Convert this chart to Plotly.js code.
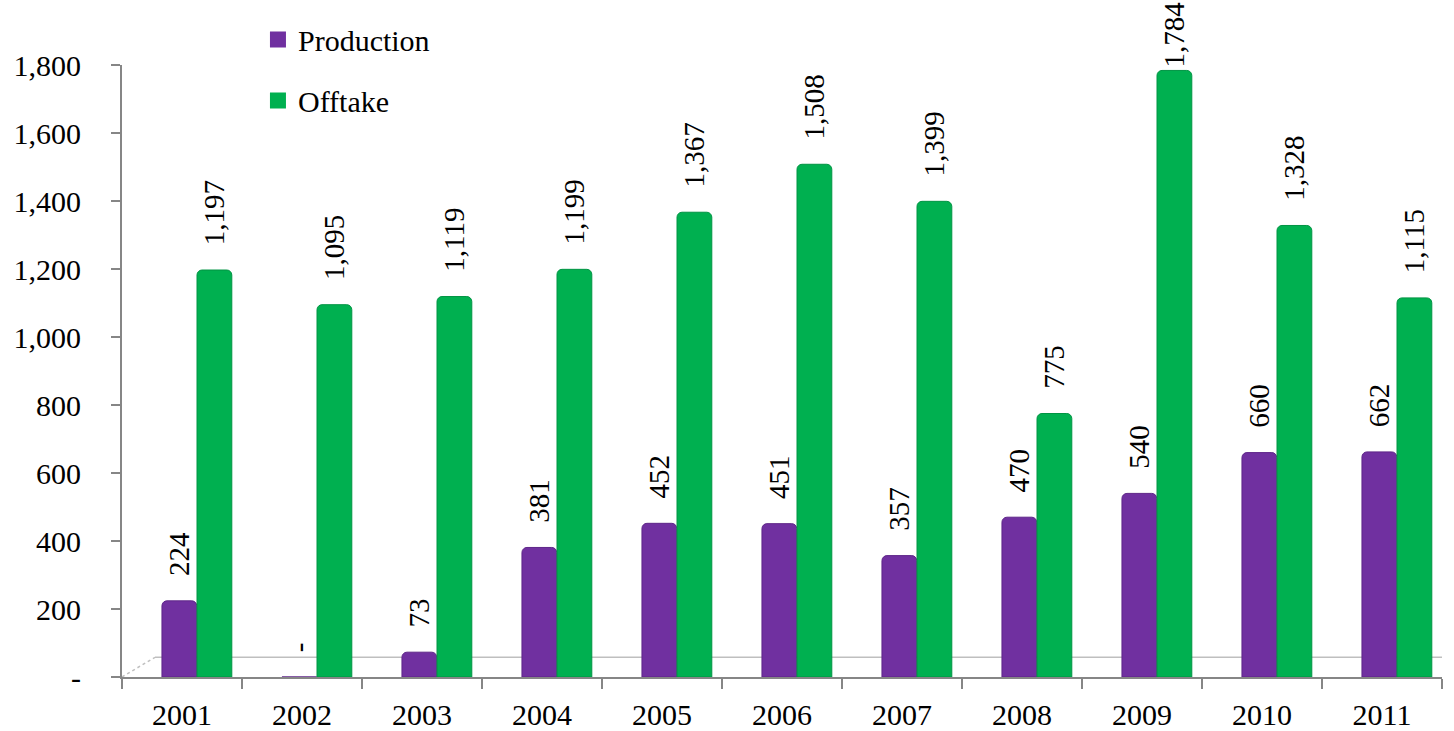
<!DOCTYPE html>
<html><head><meta charset="utf-8">
<script src="https://cdn.plot.ly/plotly-3.0.1.min.js"></script>
<style>
html,body{margin:0;padding:0;background:#fff}#chart{width:1454px;height:731px}
#chart text{font-family:"Liberation Serif","Times New Roman",serif !important}
</style>
</head><body><div id="chart"></div>
<script>
const years = ['2001','2002','2003','2004','2005','2006','2007','2008','2009','2010','2011'];
const production = [224, 0, 73, 381, 452, 451, 357, 470, 540, 660, 662];
const offtake = [1197, 1095, 1119, 1199, 1367, 1508, 1399, 775, 1784, 1328, 1115];
const yTickVals = [0, 200, 400, 600, 800, 1000, 1200, 1400, 1600, 1800];
const yTickText = ['-', '200', '400', '600', '800', '1,000', '1,200', '1,400', '1,600', '1,800'];

const font = 'Liberation Serif';
// labels near the top edge sit closer to their bar, as in the reference
const fmt = v => (v > 1700 ? '' : '\u00a0\u00a0\u00a0') + (v === 0 ? '-' : v.toLocaleString('en-US'));
const lblFont = {family:font, size:29, color:'#000'};

const traces = [
  {type:'bar', name:'Production', x:years, y:production, showlegend:false,
   text: production.map(fmt), textposition:'outside', textangle:-90, cliponaxis:false,
   constraintext:'none', textfont:lblFont, outsidetextfont:lblFont,
   offset:-0.167, width:0.29,
   marker:{color:'#7030A0', cornerradius:5, line:{color:'#5E2588', width:1}}},
  {type:'bar', name:'Offtake', x:years, y:offtake, showlegend:false,
   text: offtake.map(fmt), textposition:'outside', textangle:-90, cliponaxis:false,
   constraintext:'none', textfont:lblFont, outsidetextfont:lblFont,
   offset:0.125, width:0.29,
   marker:{color:'#00B050', cornerradius:5, line:{color:'#009443', width:1}}},
  {type:'scatter', mode:'markers', name:'Production', x:[null], y:[null], legendgroup:'a',
   marker:{symbol:'square', size:16, color:'#7030A0'}},
  {type:'scatter', mode:'markers', name:'Offtake', x:[null], y:[null], legendgroup:'b',
   marker:{symbol:'square', size:16, color:'#00B050'}}
];

const layout = {
  width:1454, height:731,
  margin:{l:122, r:12, t:65, b:54, autoexpand:false},
  paper_bgcolor:'#fff', plot_bgcolor:'#fff',
  barmode:'overlay',
  font:{family:font, size:30, color:'#000'},
  showlegend:true,
  legend:{x:0.103, y:1.084, xanchor:'left', yanchor:'top', traceorder:'grouped',
    tracegroupgap:19, font:{family:font, size:30, color:'#000'}, bgcolor:'rgba(0,0,0,0)',
    itemwidth:30},
  xaxis:{type:'category', range:[-0.5,10.5], showline:true, linecolor:'#868686', linewidth:2,
    ticks:'outside', tickson:'boundaries', ticklen:10, tickcolor:'#868686', tickwidth:2,
    showgrid:false, ticklabelstandoff:10, tickfont:{family:font, size:30}},
  yaxis:{range:[0,1800], tickvals:yTickVals, ticktext:yTickText, showline:true,
    linecolor:'#868686', linewidth:2, ticks:'outside', ticklen:9, tickcolor:'#868686', tickwidth:2,
    showgrid:false, zeroline:false, ticklabelstandoff:24, tickfont:{family:font, size:30}},
  shapes:[
    {type:'line', xref:'paper', yref:'y', x0:0.025, x1:1, y0:58, y1:58, line:{color:'#BFBFBF', width:1.5}, layer:'below'},
    {type:'line', xref:'paper', yref:'y', x0:0, x1:0.025, y0:0, y1:58, line:{color:'#BFBFBF', width:1.5, dash:'dot'}, layer:'below'}
  ]
};
Plotly.newPlot('chart', traces, layout, {displayModeBar:false, staticPlot:true});
</script></body></html>
